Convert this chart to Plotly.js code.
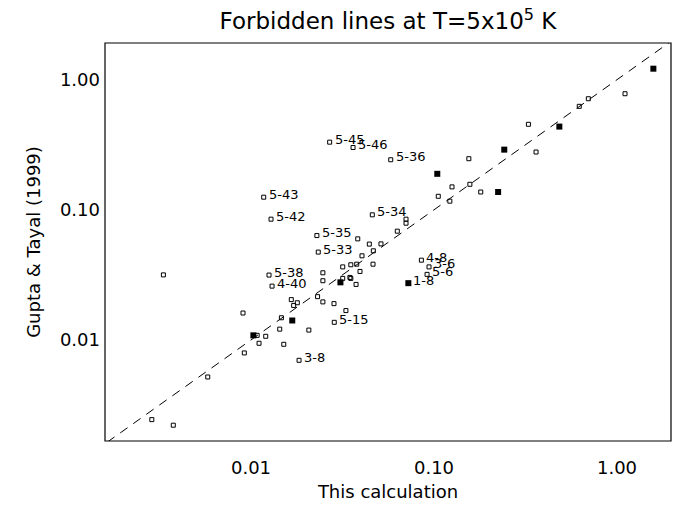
<!DOCTYPE html>
<html>
<head>
<meta charset="utf-8">
<script src="https://cdn.plot.ly/plotly-3.0.1.min.js"></script>
<style>html,body{margin:0;padding:0;background:#fff;}#chart{width:685px;height:509px;}</style>
</head>
<body>
<div id="chart"></div>
<script>
// Open squares: x = this calculation, y = Gupta & Tayal (1999)
const openX = [0.0269,0.0361,0.0580,0.01173,0.01286,0.0229,0.0383,0.046,1.106,0.697,0.622,0.328,0.361,0.155,0.1254,0.157,0.18,0.1055,0.122,0.0703,0.0703,0.063,0.0233,0.0443,0.0513,0.0466,0.0404,0.0317,0.0351,0.0378,0.0464,0.0394,0.0247,0.0247,0.01254,0.01303,0.0317,0.0347,0.0351,0.0375,0.00332,0.0166,0.0179,0.0171,0.0231,0.0247,0.0284,0.033,0.0285,0.01465,0.01435,0.0207,0.00904,0.0108,0.01203,0.01106,0.0151,0.00919,0.0183,0.0058,0.00287,0.00376,0.00232,0.0853,0.0939,0.0916];
const openY = [0.331,0.301,0.2425,0.125,0.0847,0.0634,0.0598,0.0915,0.78,0.714,0.624,0.454,0.278,0.247,0.150,0.157,0.137,0.127,0.1165,0.0847,0.0789,0.0685,0.0473,0.0545,0.0547,0.0484,0.0443,0.0364,0.0378,0.0382,0.0382,0.0336,0.0328,0.0285,0.0315,0.0259,0.0297,0.0302,0.0297,0.0267,0.0316,0.0204,0.0193,0.0184,0.0215,0.0196,0.0190,0.0168,0.01365,0.0148,0.0121,0.0119,0.0161,0.01084,0.01066,0.00942,0.00925,0.00794,0.00697,0.00519,0.00244,0.00221,0.00166,0.041,0.0364,0.0319];
// Filled squares
const filledX = [1.58,0.484,0.242,0.1042,0.224,0.0308,0.0168,0.0103,0.0724];
const filledY = [1.215,0.436,0.29,0.189,0.137,0.0277,0.0141,0.01084,0.0273];
// Labelled transitions
const labelText = ["5-45","5-46","5-36","5-43","5-42","5-35","5-34","5-33","5-38","4-40","5-15","3-8","4-8","3-6","5-6","1-8"];
const labelX = [0.0269,0.0361,0.0580,0.01173,0.01286,0.0229,0.046,0.0233,0.01254,0.01303,0.0285,0.0183,0.0853,0.0939,0.0916,0.0724];
const labelY = [0.331,0.301,0.2425,0.125,0.0847,0.0634,0.0915,0.0473,0.0315,0.0259,0.01365,0.00697,0.041,0.0364,0.0319,0.0273];
// One-to-one line
const diagX = [0.001,3];
const diagY = [0.001,3];
// Axis ticks
const tickVals = [0.01,0.1,1];
const tickText = ["0.01","0.10","1.00"];

const FONT = "DejaVu Sans, sans-serif";
const XR = [-2.798, 0.295];
const YR = [-2.777, 0.282];
const W = 685, H = 509, ML = 105, MR = 14, MT = 43, MB = 68;
const plotW = W - ML - MR, plotH = H - MT - MB;
const dxPerPx = (XR[1] - XR[0]) / plotW;
const dyPerPx = (YR[1] - YR[0]) / plotH;

const minorVals = [];
for (let e = -3; e <= 0; e++) { for (let m = 2; m <= 9; m++) minorVals.push(m * Math.pow(10, e)); }
const inRange = (v, r) => Math.log10(v) > r[0] && Math.log10(v) < r[1];

// Tick marks (inside, all four sides), placed in the axes' own log units
const shapes = [];
const tk = {color: '#000', width: 1};
function xTicks(vals, lenPx) {
  const d = lenPx * dyPerPx;
  vals.filter(v => inRange(v, XR)).forEach(v => {
    const lx = Math.log10(v);
    shapes.push({type: 'line', xref: 'x', yref: 'y', x0: lx, x1: lx, y0: YR[0], y1: YR[0] + d, line: tk});
    shapes.push({type: 'line', xref: 'x', yref: 'y', x0: lx, x1: lx, y0: YR[1], y1: YR[1] - d, line: tk});
  });
}
function yTicks(vals, lenPx) {
  const d = lenPx * dxPerPx;
  vals.filter(v => inRange(v, YR)).forEach(v => {
    const ly = Math.log10(v);
    shapes.push({type: 'line', xref: 'x', yref: 'y', y0: ly, y1: ly, x0: XR[0], x1: XR[0] + d, line: tk});
    shapes.push({type: 'line', xref: 'x', yref: 'y', y0: ly, y1: ly, x0: XR[1], x1: XR[1] - d, line: tk});
  });
}
xTicks(tickVals, 8); xTicks(minorVals, 4);
yTicks(tickVals, 11); yTicks(minorVals, 5);
// plot frame
shapes.push({type: 'rect', xref: 'paper', yref: 'paper', x0: 0, x1: 1, y0: 0, y1: 1, line: {color: '#000', width: 1.2}, fillcolor: 'rgba(0,0,0,0)'});

const traces = [
  {x: diagX, y: diagY, mode: 'lines', line: {color: '#000', width: 1, dash: '9px,7px'}, hoverinfo: 'skip', showlegend: false},
  {x: openX, y: openY, mode: 'markers', cliponaxis: false, marker: {symbol: 'square-open', size: 4, color: '#000', line: {width: 1, color: '#000'}}, showlegend: false},
  {x: filledX, y: filledY, mode: 'markers', marker: {symbol: 'square', size: 6, color: '#000', line: {width: 0}}, showlegend: false}
];

const annotations = labelText.map((t, i) => ({
  x: Math.log10(labelX[i]), y: Math.log10(labelY[i]), xref: 'x', yref: 'y',
  text: t, showarrow: false, xanchor: 'left', yanchor: 'middle', xshift: 3, yshift: 3,
  font: {family: FONT, size: 13, color: '#000'}
}));

const axisCommon = {
  type: 'log', tickmode: 'array', tickvals: tickVals, ticktext: tickText,
  ticks: '', showline: false, showgrid: false, zeroline: false,
  tickfont: {family: FONT, size: 18, color: '#000'}
};

const layout = {
  width: W, height: H,
  margin: {l: ML, r: MR, t: MT, b: MB},
  paper_bgcolor: '#fff', plot_bgcolor: '#fff',
  showlegend: false,
  title: {text: 'Forbidden lines at T=5x10<sup>5</sup> K', font: {family: FONT, size: 23, color: '#000'},
          x: 0.5, xref: 'paper', xanchor: 'center', y: 0.958, yref: 'container', yanchor: 'middle'},
  xaxis: Object.assign({}, axisCommon, {
    range: XR, ticklabelstandoff: 14,
    title: {text: 'This calculation', font: {family: FONT, size: 18, color: '#000'}, standoff: 8}
  }),
  yaxis: Object.assign({}, axisCommon, {
    range: YR, ticklabelstandoff: 4,
    title: {text: 'Gupta &amp; Tayal (1999)', font: {family: FONT, size: 18, color: '#000'}, standoff: 14}
  }),
  shapes: shapes,
  annotations: annotations
};

Plotly.newPlot('chart', traces, layout, {displayModeBar: false, staticPlot: true});
</script>
</body>
</html>
